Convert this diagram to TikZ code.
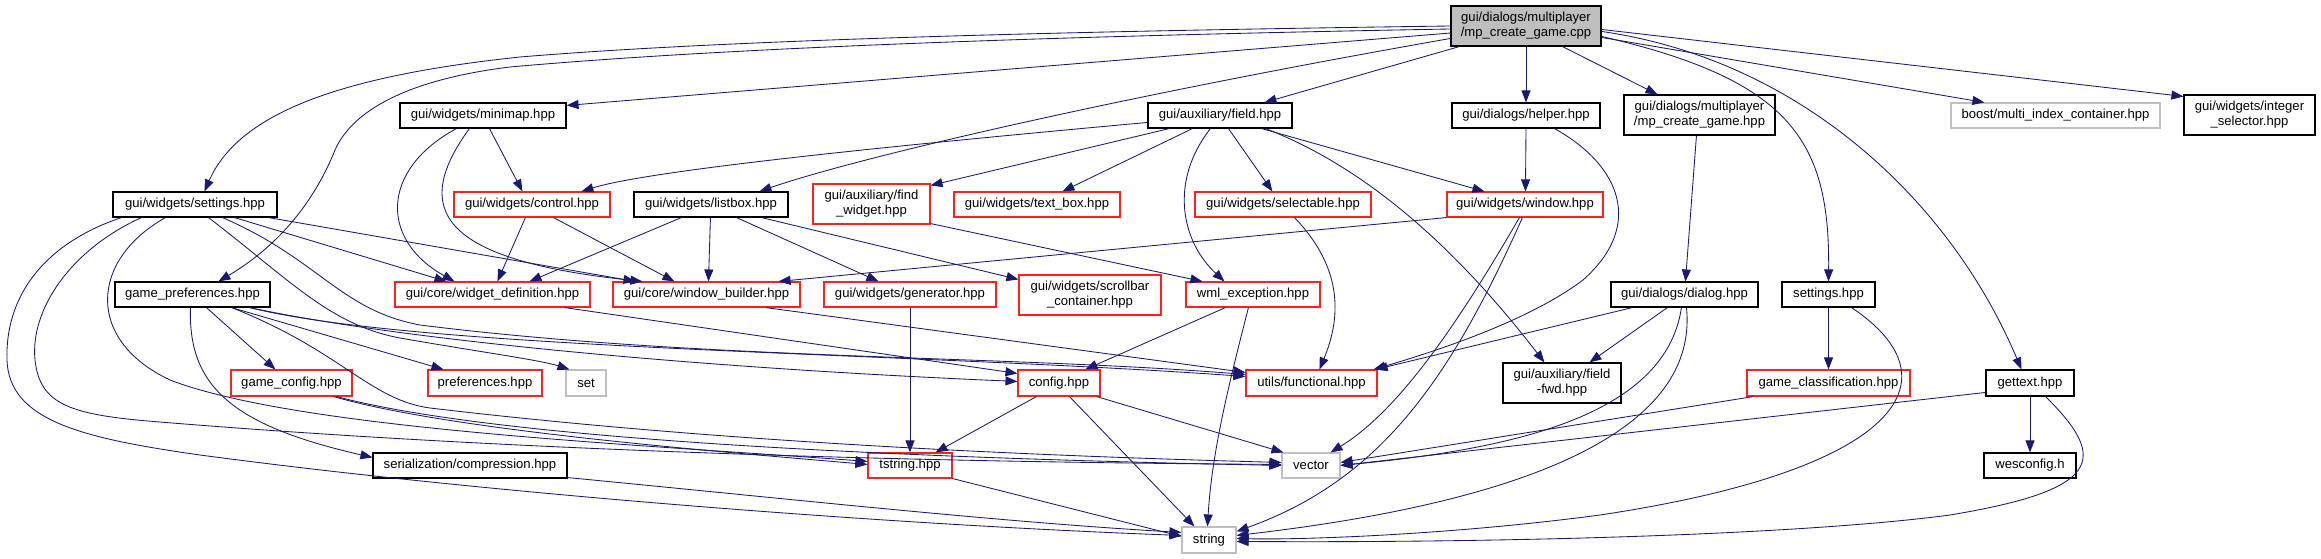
\documentclass[tikz,border=0pt]{standalone}
\usepackage{fontspec}
\newfontfamily\dfontfam{Liberation Sans}
\newcommand\dfont{\dfontfam\fontsize{13.1}{15}\selectfont}
\usetikzlibrary{arrows.meta,calc}
\definecolor{edgec}{HTML}{191970}
\definecolor{redb}{HTML}{FF2020}
\definecolor{grayb}{HTML}{BFBFBF}
\definecolor{mainfill}{HTML}{BFBFBF}
\tikzset{
  nd/.style={draw, line width=1.1pt, inner sep=0pt, fill=white, align=center, font=\dfont, anchor=center},
  bk/.style={nd, draw=black},
  rd/.style={nd, draw=redb},
  gy/.style={nd, draw=grayb},
  dep/.style={draw=edgec, line width=0.85pt, -{Triangle[length=12pt,width=9pt]}},
}
\begin{document}
\begin{tikzpicture}[x=1pt,y=-1pt]
\fill[white] (0,0) rectangle (2321,559);
\useasboundingbox (0,0) rectangle (2321,559);
% nodes
\node[bk, fill=mainfill, minimum width=150pt, minimum height=40pt] (main) at (1526,26) {gui/dialogs/multiplayer\\/mp\_create\_game.cpp};
\node[bk, minimum width=166pt, minimum height=25pt] (minimap) at (483,115.5) {gui/widgets/minimap.hpp};
\node[bk, minimum width=144pt, minimum height=25pt] (field) at (1220,115.5) {gui/auxiliary/field.hpp};
\node[bk, minimum width=148pt, minimum height=25pt] (helper) at (1526,115.5) {gui/dialogs/helper.hpp};
\node[bk, minimum width=151pt, minimum height=40pt] (mpcgh) at (1699.5,115) {gui/dialogs/multiplayer\\/mp\_create\_game.hpp};
\node[gy, minimum width=209pt, minimum height=25pt] (boost) at (2055.5,115.5) {boost/multi\_index\_container.hpp};
\node[bk, minimum width=131pt, minimum height=40pt] (intsel) at (2249.5,115) {gui/widgets/integer\\\_selector.hpp};
\node[bk, minimum width=164pt, minimum height=25pt] (wset) at (195,204.5) {gui/widgets/settings.hpp};
\node[rd, minimum width=156pt, minimum height=25pt] (control) at (532,204.5) {gui/widgets/control.hpp};
\node[bk, minimum width=154pt, minimum height=25pt] (listbox) at (711,204.5) {gui/widgets/listbox.hpp};
\node[rd, minimum width=117pt, minimum height=40pt] (findw) at (871.5,204) {gui/auxiliary/find\\\_widget.hpp};
\node[rd, minimum width=166pt, minimum height=25pt] (textbox) at (1037,204.5) {gui/widgets/text\_box.hpp};
\node[rd, minimum width=176pt, minimum height=25pt] (selectable) at (1283,204.5) {gui/widgets/selectable.hpp};
\node[rd, minimum width=156pt, minimum height=25pt] (window) at (1525,204.5) {gui/widgets/window.hpp};
\node[bk, minimum width=155pt, minimum height=25pt] (gp) at (192.5,294.5) {game\_preferences.hpp};
\node[rd, minimum width=195pt, minimum height=25pt] (wdef) at (492.5,294.5) {gui/core/widget\_definition.hpp};
\node[rd, minimum width=187pt, minimum height=25pt] (wbuilder) at (706.5,294.5) {gui/core/window\_builder.hpp};
\node[rd, minimum width=172pt, minimum height=25pt] (generator) at (910,294.5) {gui/widgets/generator.hpp};
\node[rd, minimum width=142pt, minimum height=40pt] (scrollbar) at (1090,295) {gui/widgets/scrollbar\\\_container.hpp};
\node[rd, minimum width=134pt, minimum height=25pt] (wml) at (1253,294.5) {wml\_exception.hpp};
\node[bk, minimum width=147pt, minimum height=25pt] (dialog) at (1684.5,294.5) {gui/dialogs/dialog.hpp};
\node[bk, minimum width=93pt, minimum height=25pt] (settings) at (1828.5,294.5) {settings.hpp};
\node[rd, minimum width=121pt, minimum height=26pt] (gameconfig) at (291.5,383) {game\_config.hpp};
\node[rd, minimum width=114pt, minimum height=26pt] (preferences) at (485,383) {preferences.hpp};
\node[gy, minimum width=40pt, minimum height=26pt] (set) at (586,383) {set};
\node[rd, minimum width=82pt, minimum height=26pt] (config) at (1059,383) {config.hpp};
\node[rd, minimum width=131pt, minimum height=26pt] (functional) at (1311.5,383) {utils/functional.hpp};
\node[bk, minimum width=118pt, minimum height=40pt] (fieldfwd) at (1562,383) {gui/auxiliary/field\\-fwd.hpp};
\node[rd, minimum width=163pt, minimum height=26pt] (gameclass) at (1828.5,383) {game\_classification.hpp};
\node[bk, minimum width=88pt, minimum height=26pt] (gettext) at (2030,383) {gettext.hpp};
\node[bk, minimum width=194pt, minimum height=25pt] (compression) at (470,465.5) {serialization/compression.hpp};
\node[rd, minimum width=84pt, minimum height=25pt] (tstring) at (910,465.5) {tstring.hpp};
\node[gy, minimum width=58pt, minimum height=25pt] (vector) at (1311,465.5) {vector};
\node[bk, minimum width=92pt, minimum height=25pt] (wesconfig) at (2030,465.5) {wesconfig.h};
\node[gy, minimum width=54pt, minimum height=26pt] (string) at (1209,540) {string};
% edges from main
\path[dep] (main.west) .. controls (1000,32) and (700,42) .. (520,57) .. controls (350,75) and (240,110) .. ($(wset.north west)+(92,0)$);
\path[dep] ($(main.west)+(0,3)$) .. controls (1000,37) and (700,50) .. (510,67) .. controls (420,78) and (355,105) .. (335,150) .. controls (315,200) and (280,245) .. ($(gp.north west)+(104,0)$);
\path[dep] ($(main.west)+(0,7)$) -- ($(minimap.north east)+(0,3)$);
\path[dep] ($(main.north west)+(0,33)$) .. controls (1100,100) and (850,160) .. ($(listbox.north west)+(126,0)$);
\path[dep] ($(main.south west)+(9,0)$) -- ($(field.north west)+(117,0)$);
\path[dep] (main.south) -- (helper.north);
\path[dep] ($(main.south west)+(112,0)$) -- ($(mpcgh.north west)+(34,0)$);
\path[dep] ($(main.north east)+(0,31)$) .. controls (1790,80) and (1830,140) .. (settings.north);
\path[dep] ($(main.north east)+(0,26)$) .. controls (1800,60) and (1950,200) .. ($(gettext.north west)+(36,0)$);
\path[dep] ($(main.north east)+(0,32)$) -- ($(boost.north west)+(34,0)$);
\path[dep] ($(main.north east)+(0,24)$) -- ($(intsel.north west)+(0,2)$);
% minimap
\path[dep] ($(minimap.south west)+(90,0)$) -- ($(control.north west)+(69,0)$);
\path[dep] ($(minimap.south west)+(57,0)$) .. controls (380,170) and (380,240) .. ($(wdef.north west)+(60,0)$);
\path[dep] ($(minimap.south west)+(70,0)$) .. controls (410,210) and (440,260) .. ($(wbuilder.north west)+(30,0)$);
% field
\path[dep] ($(field.north west)+(0,20)$) .. controls (900,145) and (650,170) .. ($(control.north west)+(128,0)$);
\path[dep] ($(field.south west)+(22,0)$) -- ($(findw.north east)+(0,2)$);
\path[dep] ($(field.south west)+(45,0)$) -- ($(textbox.north west)+(109,0)$);
\path[dep] ($(field.south west)+(63,0)$) .. controls (1170,180) and (1180,240) .. ($(wml.north west)+(39,0)$);
\path[dep] ($(field.south west)+(81,0)$) -- ($(selectable.north west)+(78,0)$);
\path[dep] ($(field.south west)+(114,0)$) -- ($(window.north west)+(38,0)$);
\path[dep] ($(field.south west)+(118,0)$) .. controls (1360,165) and (1450,240) .. ($(fieldfwd.north west)+(42,0)$);
% helper
\path[dep] (helper.south) -- ($(window.north west)+(79,0)$);
\path[dep] ($(helper.south west)+(103,0)$) .. controls (1620,165) and (1645,225) .. (1583,280) .. controls (1530,320) and (1440,350) .. ($(functional.north east)+(-4,0)$);
% window
\path[dep] (window.south west) -- ($(wbuilder.north east)+(-22,0)$);
\path[dep] ($(window.south west)+(73,0)$) .. controls (1460,320) and (1400,410) .. ($(vector.north east)+(-10,0)$);
\path[dep] ($(window.south west)+(76,0)$) .. controls (1450,380) and (1380,480) .. ($(string.north east)+(0,5)$);
% selectable, find widget
\path[dep] ($(selectable.south west)+(100,0)$) .. controls (1345,270) and (1340,320) .. ($(functional.north west)+(74,0)$);
\path[dep] ($(findw.south east)+(0,-1)$) -- ($(wml.north west)+(17,0)$);
% control, listbox
\path[dep] ($(control.south west)+(72,0)$) -- ($(wdef.north west)+(103,0)$);
\path[dep] ($(control.south west)+(100,0)$) -- ($(wbuilder.north west)+(62,0)$);
\path[dep] ($(listbox.south west)+(48,0)$) -- ($(wdef.north west)+(135,0)$);
\path[dep] ($(listbox.south west)+(77,0)$) -- ($(wbuilder.north west)+(96,0)$);
\path[dep] ($(listbox.south west)+(103,0)$) -- ($(generator.north west)+(55,0)$);
\path[dep] ($(listbox.south west)+(128,0)$) -- ($(scrollbar.north west)+(0,5)$);
% gui/widgets/settings.hpp
\path[dep] ($(wset.south west)+(9,0)$) .. controls (40,245) and (5,300) .. (7,360) .. controls (9,420) and (80,438) .. (200,455) .. controls (500,495) and (900,525) .. ($(string.north west)+(0,9)$);
\path[dep] ($(wset.south west)+(29,0)$) .. controls (70,250) and (30,310) .. (35,360) .. controls (40,405) and (70,415) .. (160,422) .. controls (500,450) and (900,462) .. ($(vector.north west)+(0,12)$);
\path[dep] ($(wset.south west)+(53,0)$) .. controls (90,260) and (85,340) .. (170,380) .. controls (300,430) and (650,445) .. ($(tstring.north west)+(0,9)$);
\path[dep] ($(wset.south west)+(96,0)$) .. controls (290,280) and (330,325) .. (400,338) .. controls (480,352) and (540,360) .. ($(set.north west)+(4,0)$);
\path[dep] ($(wset.south west)+(110,0)$) .. controls (320,260) and (340,310) .. (420,325) .. controls (700,360) and (1000,355) .. ($(functional.north west)+(0,5)$);
\path[dep] ($(wset.south west)+(122,0)$) -- ($(wdef.north west)+(52,0)$);
\path[dep] ($(wset.south west)+(156,0)$) -- ($(wbuilder.north west)+(23,0)$);
% game_preferences
\path[dep] ($(gp.south west)+(76,0)$) .. controls (188,385) and (230,425) .. ($(compression.north west)+(0,5)$);
\path[dep] ($(gp.south west)+(92,0)$) -- ($(gameconfig.north west)+(45,0)$);
\path[dep] ($(gp.south west)+(117,0)$) -- ($(preferences.north west)+(16,0)$);
\path[dep] ($(gp.south west)+(117,0)$) .. controls (340,350) and (370,400) .. (430,408) .. controls (700,440) and (1000,455) .. ($(vector.north west)+(0,10)$);
\path[dep] ($(gp.south west)+(135,0)$) .. controls (400,340) and (700,368) .. ($(config.north west)+(0,12)$);
\path[dep] ($(gp.south west)+(135,0)$) .. controls (420,350) and (900,352) .. ($(functional.north west)+(0,7)$);
% game_config, compression
\path[dep] ($(gameconfig.south west)+(103,0)$) .. controls (450,430) and (700,450) .. ($(tstring.north west)+(0,12)$);
\path[dep] ($(gameconfig.south west)+(106,0)$) .. controls (500,440) and (900,458) .. ($(vector.north west)+(0,13)$);
\path[dep] ($(compression.south east)+(0,-1)$) .. controls (800,500) and (1000,522) .. ($(string.north west)+(0,6)$);
% widget_definition, window_builder, generator, wml
\path[dep] ($(wdef.south east)+(-26,0)$) -- ($(config.north west)+(0,4)$);
\path[dep] ($(wbuilder.south east)+(-35,0)$) -- ($(functional.north west)+(0,3)$);
\path[dep] (generator.south) -- (tstring.north);
\path[dep] ($(wml.south west)+(40,0)$) -- ($(config.north west)+(68,0)$);
\path[dep] ($(wml.south west)+(63,0)$) .. controls (1230,380) and (1212,450) .. ($(string.north west)+(26,0)$);
% config, tstring
\path[dep] ($(config.south west)+(19,0)$) -- ($(tstring.north east)+(-17,0)$);
\path[dep] ($(config.south west)+(52,0)$) -- ($(string.north west)+(13,0)$);
\path[dep] ($(config.south east)+(-4,0)$) -- ($(vector.north west)+(2,0)$);
\path[dep] (tstring.south east) -- ($(string.north west)+(0,10)$);
% dialog, mp_create_game.hpp
\path[dep] ($(dialog.south west)+(22,0)$) -- ($(functional.north east)+(-2,0)$);
\path[dep] ($(dialog.south west)+(57,0)$) -- ($(fieldfwd.north west)+(87,0)$);
\path[dep] ($(dialog.south west)+(71,0)$) .. controls (1665,420) and (1500,450) .. ($(vector.north east)+(0,13)$);
\path[dep] ($(dialog.south west)+(76,0)$) .. controls (1700,440) and (1500,505) .. ($(string.north east)+(0,9)$);
\path[dep] ($(mpcgh.south west)+(73,0)$) -- ($(dialog.north west)+(75,0)$);
% settings.hpp, game_classification, gettext
\path[dep] (settings.south) -- (gameclass.north);
\path[dep] ($(settings.south west)+(70,0)$) .. controls (1960,380) and (1900,470) .. (1600,515) .. controls (1450,535) and (1300,540) .. ($(string.north east)+(0,12)$);
\path[dep] ($(gameclass.south west)+(7,0)$) -- ($(vector.north east)+(0,10)$);
\path[dep] ($(gettext.north west)+(0,23)$) -- ($(vector.north east)+(0,13)$);
\path[dep] (gettext.south) -- (wesconfig.north);
\path[dep] ($(gettext.south west)+(60,0)$) .. controls (2110,460) and (2100,490) .. (1950,515) .. controls (1800,535) and (1500,543) .. ($(string.north east)+(0,15)$);
\end{tikzpicture}
\end{document}
